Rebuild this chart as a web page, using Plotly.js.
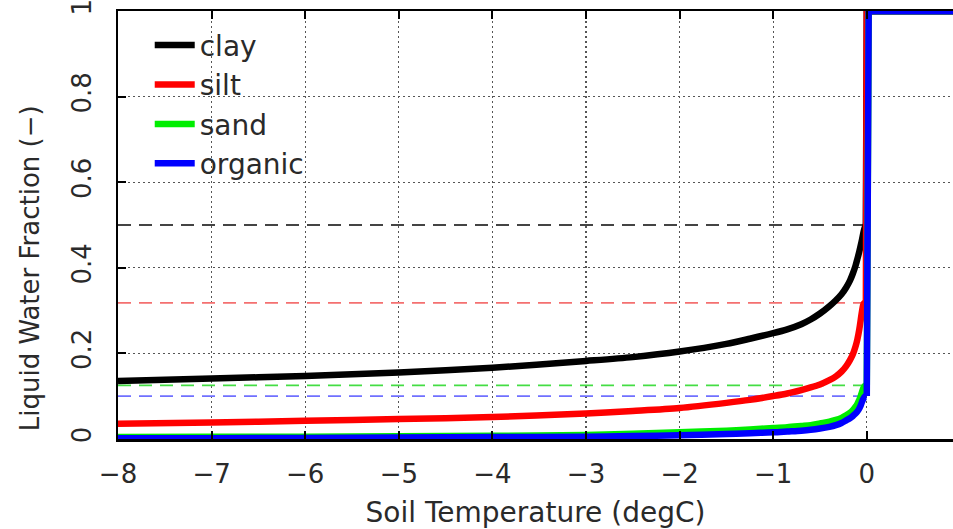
<!DOCTYPE html>
<html><head><meta charset="utf-8">
<script src="https://cdn.plot.ly/plotly-3.0.1.min.js"></script>
<style>html,body{margin:0;padding:0;background:#fff}#chart{width:953px;height:529px}</style>
</head><body><div id="chart"></div>
<script>
// Soil temperature samples (degC)
const tempC   = [-8, -7, -6, -5, -4, -3, -2.5, -2, -1.5, -1.25, -1, -0.85, -0.7, -0.6, -0.5, -0.4, -0.33, -0.27, -0.22, -0.18, -0.15, -0.12, -0.1, -0.08, -0.065, -0.05, -0.04, -0.03, -0.02, -0.01, 0, 0.02, 0.921];
// Liquid water fraction
const clay    = [0.135, 0.141, 0.147, 0.155, 0.166, 0.182, 0.191, 0.204, 0.222, 0.234, 0.247, 0.256, 0.268, 0.279, 0.293, 0.310, 0.324, 0.338, 0.354, 0.370, 0.386, 0.405, 0.421, 0.438, 0.452, 0.467, 0.478, 0.488, 0.495, 0.500, 1, 1, 1];
const silt    = [0.035, 0.038, 0.042, 0.046, 0.051, 0.059, 0.065, 0.072, 0.084, 0.091, 0.100, 0.106, 0.114, 0.120, 0.127, 0.137, 0.146, 0.157, 0.170, 0.184, 0.197, 0.216, 0.233, 0.256, 0.278, 0.300, 0.312, 0.317, 0.318, 0.318, 1, 1, 1];
const sand    = [0.004, 0.0045, 0.005, 0.006, 0.007, 0.009, 0.012, 0.015, 0.019, 0.022, 0.025, 0.027, 0.030, 0.032, 0.036, 0.040, 0.044, 0.049, 0.055, 0.061, 0.067, 0.075, 0.082, 0.091, 0.100, 0.110, 0.117, 0.121, 0.124, 0.125, 0.125, 1, 1];
const organic = [0.001, 0.0015, 0.002, 0.003, 0.004, 0.005, 0.0065, 0.008, 0.011, 0.013, 0.015, 0.017, 0.019, 0.021, 0.024, 0.028, 0.032, 0.037, 0.043, 0.048, 0.053, 0.059, 0.064, 0.071, 0.078, 0.087, 0.092, 0.096, 0.099, 0.100, 0.100, 1, 1];

const seriesNames  = ['clay', 'silt', 'sand', 'organic'];
const seriesColors = ['#000000', '#ff0000', '#00ee00', '#0000ff'];
// saturation (dashed) levels
const satLevels = [0.5, 0.318, 0.125, 0.1];
const satColors = ['#444444', '#f47070', '#44dd44', '#7070ff'];
const satX = [-8, 0];

const xTicks = [-8, -7, -6, -5, -4, -3, -2, -1, 0];
const xTickText = ['−8', '−7', '−6', '−5', '−4', '−3', '−2', '−1', '0'];
const yTicks = [0, 0.2, 0.4, 0.6, 0.8, 1];
const yTickText = ['0', '0.2', '0.4', '0.6', '0.8', '1'];

const FONT = 'DejaVu Sans';
const TXT = '#2a2a2a';

const traces = [];
satLevels.forEach((lv, i) => {
  traces.push({
    x: satX, y: [lv, lv], mode: 'lines', showlegend: false, hoverinfo: 'skip',
    line: {color: satColors[i], width: 1.8, dash: '13px,8px'}
  });
});
const series = [clay, silt, sand, organic];
series.forEach((ys, i) => {
  // smooth freezing curve up to the thaw jump, then the straight jump to 1
  const k = ys.findIndex(v => v >= 1);
  traces.push({
    x: tempC.slice(0, k), y: ys.slice(0, k), mode: 'lines', name: seriesNames[i],
    cliponaxis: false, legendgroup: 'g' + i,
    line: {color: seriesColors[i], width: 6.5, shape: 'spline', smoothing: 0.8}
  });
  traces.push({
    x: tempC.slice(k - 1), y: ys.slice(k - 1), mode: 'lines', name: seriesNames[i],
    cliponaxis: false, legendgroup: 'g' + i, showlegend: false,
    line: {color: seriesColors[i], width: 6.5}
  });
});

const layout = {
  width: 953, height: 529,
  margin: {l: 118, r: 0, t: 11, b: 90, pad: 0},
  paper_bgcolor: '#ffffff', plot_bgcolor: '#ffffff',
  font: {family: FONT, color: TXT, size: 26},
  showlegend: true,
  legend: {
    x: 0.038, y: 0.978, xanchor: 'left', yanchor: 'top',
    bgcolor: 'rgba(0,0,0,0)', borderwidth: 0,
    font: {family: FONT, size: 28, color: TXT},
    traceorder: 'grouped', tracegroupgap: 0, itemwidth: 40
  },
  xaxis: {
    range: [-8, 0.921], tickmode: 'array', tickvals: xTicks, ticktext: xTickText,
    ticks: 'inside', ticklen: 8, tickwidth: 2, tickcolor: '#000',
    showline: true, linecolor: '#000', linewidth: 2.5, mirror: 'ticks',
    showgrid: true, gridcolor: '#555', gridwidth: 1.3, griddash: '2px,3px',
    zeroline: false, ticklabelstandoff: 10,
    tickfont: {family: FONT, size: 26, color: TXT},
    title: {text: 'Soil Temperature (degC)', font: {family: FONT, size: 28, color: TXT}, standoff: 15}
  },
  yaxis: {
    range: [-0.0005, 1.0005], tickmode: 'array', tickvals: yTicks, ticktext: yTickText, tickangle: -90,
    ticks: 'inside', ticklen: 8, tickwidth: 2, tickcolor: '#000',
    showline: true, linecolor: '#000', linewidth: 2.5, mirror: false,
    showgrid: true, gridcolor: '#555', gridwidth: 1.3, griddash: '2px,3px',
    zeroline: false, ticklabelstandoff: 14, ticklabeloverflow: 'allow',
    tickfont: {family: FONT, size: 26, color: TXT}
  },
  annotations: [{
    text: 'Liquid Water Fraction (−)', xref: 'paper', yref: 'paper',
    x: -0.106, y: 0.4, xanchor: 'center', yanchor: 'middle', textangle: -90,
    showarrow: false, font: {family: FONT, size: 26, color: TXT}
  }]
};

Plotly.newPlot('chart', traces, layout, {displayModeBar: false, staticPlot: true});
</script>
</body></html>
